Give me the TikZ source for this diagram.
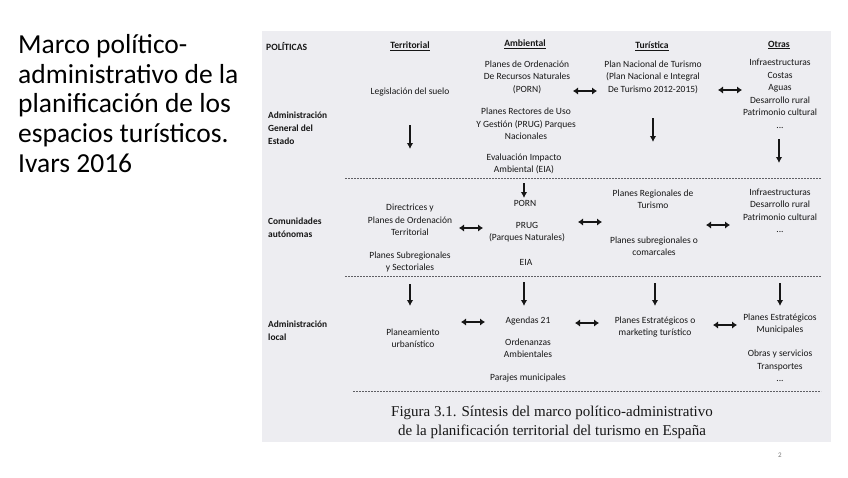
\documentclass[tikz,border=0pt]{standalone}
\usepackage{fontspec}
\setmainfont{Carlito}
\newfontfamily\capfont{Liberation Serif}
\usetikzlibrary{arrows.meta}
\definecolor{ink}{RGB}{22,22,22}
\definecolor{scanbg}{RGB}{237,237,241}
\definecolor{dashcol}{RGB}{95,95,100}
\definecolor{pagenum}{RGB}{120,120,120}
\tikzset{
  txt/.style={font=\fontsize{9.5}{12.5}\selectfont, text=ink, align=center, inner sep=0pt},
  hdr/.style={font=\fontsize{9.6}{12}\selectfont\bfseries, text=ink, inner sep=0pt},
  lbl/.style={font=\fontsize{9.4}{13}\selectfont\bfseries, text=ink, align=left, anchor=west, inner sep=0pt},
  darr/.style={draw=ink, line width=1.6pt, -{Latex[length=6pt,width=6.5pt]}},
  harr/.style={draw=ink, line width=1.9pt, {Latex[length=5pt,width=7.5pt]}-{Latex[length=5pt,width=7.5pt]}},
  sep/.style={draw=dashcol, line width=0.9pt, dash pattern=on 2pt off 1pt},
}
\begin{document}
\begin{tikzpicture}[x=1pt,y=-1pt]
\useasboundingbox (0,0) rectangle (848,477);
\fill[white] (0,0) rectangle (848,477);
\fill[scanbg] (262,31) rectangle (831,442);

% title
\node[anchor=north west, align=left, inner sep=0pt, text=black,
      font=\fontsize{27.5}{29.8}\selectfont] (title) at (18,34)
  {Marco político-\\administrativo de la\\planificación de los\\espacios turísticos.\\Ivars 2016};

% headers
\node[hdr, anchor=west] (pol) at (266,46) {POLÍTICAS};
\node[hdr] (hter) at (410,46) {\underline{Territorial}};
\node[hdr] (hamb) at (525,44) {\underline{Ambiental}};
\node[hdr] (htur) at (652,46) {\underline{Turística}};
\node[hdr] (hotr) at (779,45) {\underline{Otras}};

% row 1: Estado
\node[lbl] (estado) at (268,128) {Administración\\General del\\Estado};
\node[txt] (legis) at (410,92) {Legislación del suelo};
\node[txt] (porn1) at (527,77) {Planes de Ordenación\\De Recursos Naturales\\(PORN)};
\node[txt] (prug1) at (526,124) {Planes Rectores de Uso\\Y Gestión (PRUG) Parques\\Nacionales};
\node[txt] (eia1) at (524,164) {Evaluación Impacto\\Ambiental (EIA)};
\node[txt] (pnt) at (653,77) {Plan Nacional de Turismo\\(Plan Nacional e Integral\\De Turismo 2012-2015)};
\node[txt] (otr1) at (780,94) {Infraestructuras\\Costas\\Aguas\\Desarrollo rural\\Patrimonio cultural\\...};

\coordinate (h1a) at (573,91); \coordinate (h1b) at (597,91);
\coordinate (h2a) at (718,90); \coordinate (h2b) at (742,90);
\draw[harr] (h1a) -- (h1b);
\draw[harr] (h2a) -- (h2b);
\coordinate (d1a) at (410,125); \coordinate (d1b) at (410,149);
\coordinate (d2a) at (653,118); \coordinate (d2b) at (653,142);
\coordinate (d3a) at (779,139); \coordinate (d3b) at (779,163);
\draw[darr] (d1a) -- (d1b);
\draw[darr] (d2a) -- (d2b);
\draw[darr] (d3a) -- (d3b);

\coordinate (s1a) at (345,178); \coordinate (s1b) at (821,178);
\draw[sep] (s1a) -- (s1b);

% row 2: Comunidades autonomas
\node[lbl] (ccaa) at (268,228) {Comunidades\\autónomas};
\node[txt] (dir) at (410,220) {Directrices y\\Planes de Ordenación\\Territorial};
\node[txt] (subr) at (410,262) {Planes Subregionales\\y Sectoriales};
\node[txt] (porn2) at (525,203) {PORN};
\node[txt] (prug2) at (527,232) {PRUG\\(Parques Naturales)};
\node[txt] (eia2) at (526,262) {EIA};
\node[txt] (preg) at (653,199) {Planes Regionales de\\Turismo};
\node[txt] (psub) at (654,246) {Planes subregionales o\\comarcales};
\node[txt] (otr2) at (780,211) {Infraestructuras\\Desarrollo rural\\Patrimonio cultural\\...};

\coordinate (d4a) at (524,183); \coordinate (d4b) at (524,198);
\draw[darr] (d4a) -- (d4b);
\coordinate (h3a) at (459,228); \coordinate (h3b) at (483,228);
\coordinate (h4a) at (578,222); \coordinate (h4b) at (602,222);
\coordinate (h5a) at (706,225); \coordinate (h5b) at (730,225);
\draw[harr] (h3a) -- (h3b);
\draw[harr] (h4a) -- (h4b);
\draw[harr] (h5a) -- (h5b);

\coordinate (s2a) at (345,276); \coordinate (s2b) at (821,276);
\draw[sep] (s2a) -- (s2b);

% row 3: Administracion local
\coordinate (d5a) at (410,284); \coordinate (d5b) at (410,306);
\coordinate (d6a) at (524,282); \coordinate (d6b) at (524,306);
\coordinate (d7a) at (655,283); \coordinate (d7b) at (655,306);
\coordinate (d8a) at (780,283); \coordinate (d8b) at (780,306);
\draw[darr] (d5a) -- (d5b);
\draw[darr] (d6a) -- (d6b);
\draw[darr] (d7a) -- (d7b);
\draw[darr] (d8a) -- (d8b);

\node[lbl] (local) at (268,331) {Administración\\local};
\node[txt] (plan) at (413,338) {Planeamiento\\urbanístico};
\node[txt] (ag21) at (528,321) {Agendas 21};
\node[txt] (orden) at (528,348) {Ordenanzas\\Ambientales};
\node[txt] (paraj) at (528,378) {Parajes municipales};
\node[txt] (pest) at (655,327) {Planes Estratégicos o\\marketing turístico};
\node[txt] (pmun) at (780,324) {Planes Estratégicos\\Municipales};
\node[txt] (obras) at (780,366) {Obras y servicios\\Transportes\\...};

\coordinate (h6a) at (461,322); \coordinate (h6b) at (485,322);
\coordinate (h7a) at (575,323); \coordinate (h7b) at (599,323);
\coordinate (h8a) at (713,325); \coordinate (h8b) at (737,325);
\draw[harr] (h6a) -- (h6b);
\draw[harr] (h7a) -- (h7b);
\draw[harr] (h8a) -- (h8b);

\coordinate (s3a) at (353,391); \coordinate (s3b) at (821,391);
\draw[sep] (s3a) -- (s3b);

% caption
\node[inner sep=0pt, text=ink, align=center, font=\capfont\fontsize{15}{19}\selectfont] (cap) at (552,422)
  {Figura 3.1. Síntesis del marco político-administrativo\\de la planificación territorial del turismo en España};

% page number
\node[inner sep=0pt, text=pagenum, font=\fontsize{7}{8}\selectfont] (pg) at (780,455) {2};
\end{tikzpicture}
\end{document}
